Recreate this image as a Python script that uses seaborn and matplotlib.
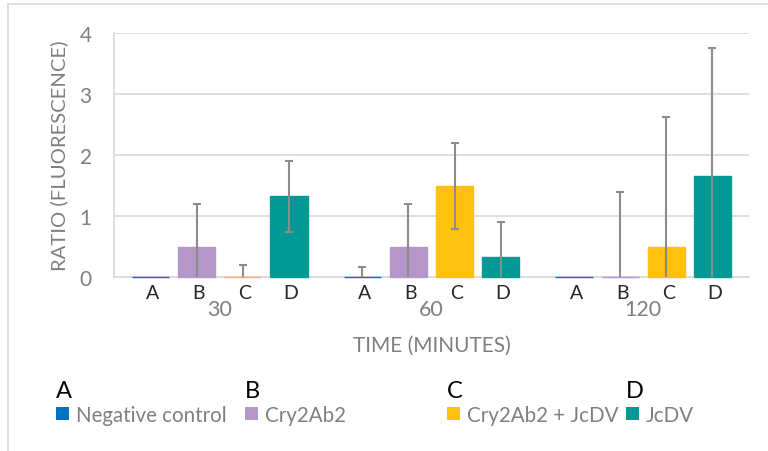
import numpy as np
import pandas as pd
import matplotlib
matplotlib.use("Agg")
import matplotlib.pyplot as plt
from matplotlib.patches import Patch, Rectangle
from matplotlib.transforms import blended_transform_factory
import seaborn as sns

# ---- data ----
times = ["30", "60", "120"]
treatments = ["Negative control", "Cry2Ab2", "Cry2Ab2 + JcDV", "JcDV"]
letters = ["A", "B", "C", "D"]
neg_control = [0.0, 0.0, 0.0]
cry2ab2 = [0.5, 0.5, 0.0]
cry2ab2_jcdv = [0.0, 1.49, 0.5]
jcdv = [1.32, 0.32, 1.65]
neg_control_err = [np.nan, 0.16, np.nan]
cry2ab2_err = [0.7, 0.7, 1.4]
cry2ab2_jcdv_err = [0.2, 0.71, 2.12]
jcdv_err = [0.58, 0.58, 2.1]
y_ticks = [0, 1, 2, 3, 4]

colors = ["#0070C0", "#B596C8", "#FFC010", "#009993"]
values = [neg_control, cry2ab2, cry2ab2_jcdv, jcdv]
errors = [neg_control_err, cry2ab2_err, cry2ab2_jcdv_err, jcdv_err]

rows = []
for t_i, t in enumerate(times):
    for s_i, s in enumerate(treatments):
        rows.append({"time": t, "treatment": s, "ratio": values[s_i][t_i]})
df = pd.DataFrame(rows)

sns.set_theme(style="white")
plt.rcParams["font.family"] = ["Lato", "DejaVu Sans"]

GRAY = "#7f7f7f"
LINE = "#d9d9d9"
DARK = "#262626"

fig = plt.figure(figsize=(7.68, 4.52), dpi=100)
fig.patch.set_facecolor("white")
ax = fig.add_axes([114 / 768, 1 - 278 / 452, (749 - 114) / 768, (278 - 34) / 452])

WIDTH = 0.87
sns.barplot(data=df, x="time", y="ratio", hue="treatment", order=times,
            hue_order=treatments, palette=colors, width=WIDTH, gap=0.19,
            errorbar=None, legend=False, ax=ax, saturation=1)

# bars: outline in own colour so zero-height bars show as a line
trans = blended_transform_factory(ax.transData, ax.transAxes)
slot = WIDTH / len(treatments)
for bar in list(ax.patches):
    if bar is None:
        continue
    xc = bar.get_x() + bar.get_width() / 2
    t_i = int(round(xc))
    s_i = int(round((xc - t_i) / slot + 1.5))
    bar.set_edgecolor(bar.get_facecolor())
    bar.set_linewidth(1.0)
    bar.set_zorder(3)
    bar.set_clip_on(False)
    e = errors[s_i][t_i]
    if not np.isnan(e):
        ax.errorbar(xc, bar.get_height(), yerr=e, fmt="none",
                    ecolor="#8c8c8c", elinewidth=1.5, capsize=2.7,
                    capthick=1.5, zorder=4)
    ax.text(xc + 0.01, -0.062, letters[s_i], transform=trans, ha="center",
            va="center", fontsize=14, color=DARK)

ax.set_ylim(0, 4)
ax.set_xlim(-0.5, 2.5)
ax.set_yticks(y_ticks)
ax.set_yticklabels([str(v) for v in y_ticks])
ax.yaxis.grid(True, color=LINE, linewidth=1.2)
ax.set_axisbelow(True)
for side in ["top", "right"]:
    ax.spines[side].set_visible(False)
for side in ["left", "bottom"]:
    ax.spines[side].set_color(LINE)
    ax.spines[side].set_linewidth(1.2)
ax.tick_params(axis="y", length=0, pad=16, labelsize=15, labelcolor=GRAY)
ax.tick_params(axis="x", length=0, pad=16, labelsize=15.5, labelcolor=GRAY)

ax.set_xlabel("TIME (MINUTES)", fontsize=15, color=GRAY)
ax.xaxis.set_label_coords(0.5, (278 - 346) / 244)
ax.xaxis.label.set_va("center")
ax.set_ylabel("RATIO (FLUORESCENCE)", fontsize=14.6, color=GRAY)
ax.yaxis.set_label_coords((59 - 114) / 635, 0.5)
ax.yaxis.label.set_va("center")

# legend: one entry per treatment, with its letter above it
legend_x = [56, 245, 447, 626]
for s_i, s in enumerate(treatments):
    fig.text(legend_x[s_i] / 768, 1 - 392 / 452, letters[s_i], ha="left",
             va="center", fontsize=17, color="black")
    leg = fig.legend(handles=[Patch(facecolor=colors[s_i], edgecolor="none")],
                     labels=[s], loc="center left",
                     bbox_to_anchor=(legend_x[s_i] / 768, 1 - 416 / 452),
                     frameon=False, fontsize=14.8,
                     handlelength=0.62, handleheight=0.62,
                     handletextpad=0.35, borderpad=0, borderaxespad=0)
    for txt in leg.get_texts():
        txt.set_color(GRAY)

# chart area border
fig.patches.append(Rectangle((8 / 768, -0.2), 1.2, 1.2 - 5 / 452,
                             transform=fig.transFigure, fill=False,
                             edgecolor=LINE, linewidth=1.2, zorder=0))

fig.savefig("out.png", dpi=100)
